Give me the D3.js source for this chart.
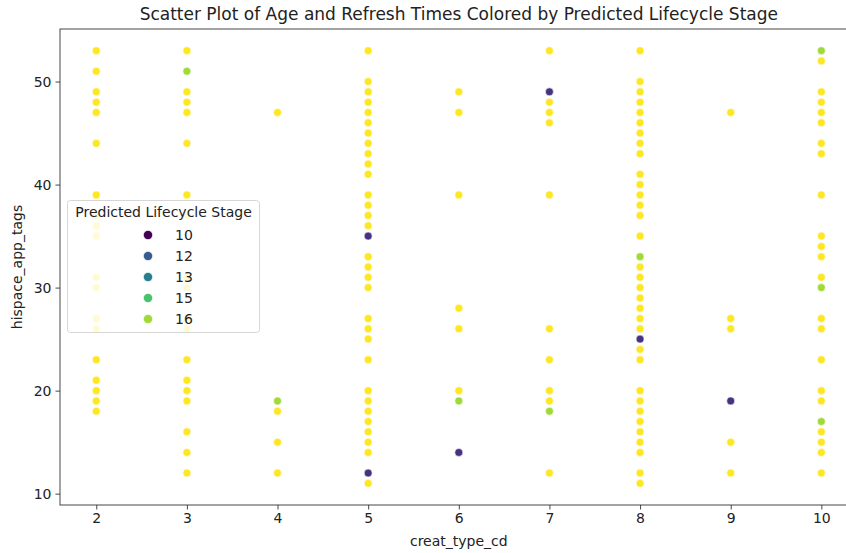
<!DOCTYPE html>
<html>
  <head>
    <script src="https://d3js.org/d3.v7.min.js"></script>
    <style>
      body { margin: 0; background: #fff; }
      text { font-family: "DejaVu Sans", sans-serif; fill: #222; }
    </style>
  </head>
  <body>
    <svg width="846" height="553"></svg>
    <script type="text/javascript">
      // creat_type_cd values on the x axis
      var creatTypes = [2, 3, 4, 5, 6, 7, 8, 9, 10];
      var yTicks = [10, 20, 30, 40, 50];
      var legendStages = [10, 12, 13, 15, 16];

      // [creat_type_cd, hispace_app_tags, predicted stage]
      var points = [
        [2, 53, 17], [2, 51, 17], [2, 49, 17], [2, 48, 17], [2, 47, 17], [2, 44, 17], [2, 39, 17],
        [2, 37, 17], [2, 36, 17], [2, 35, 17], [2, 31, 17], [2, 30, 17], [2, 27, 17], [2, 26, 17],
        [2, 23, 17], [2, 21, 17], [2, 20, 17], [2, 19, 17], [2, 18, 17],
        [3, 53, 17], [3, 51, 16], [3, 49, 17], [3, 48, 17], [3, 47, 17], [3, 44, 17], [3, 39, 17],
        [3, 37, 17], [3, 31, 17], [3, 30, 17], [3, 27, 17], [3, 26, 17], [3, 23, 17], [3, 21, 17],
        [3, 20, 17], [3, 19, 17], [3, 16, 17], [3, 14, 17], [3, 12, 17],
        [4, 47, 17], [4, 19, 16], [4, 18, 17], [4, 15, 17], [4, 12, 17],
        [5, 53, 17], [5, 50, 17], [5, 49, 17], [5, 48, 17], [5, 47, 17], [5, 46, 17], [5, 45, 17],
        [5, 44, 17], [5, 43, 17], [5, 42, 17], [5, 41, 17], [5, 39, 17], [5, 38, 17], [5, 37, 17],
        [5, 36, 17], [5, 35, 11], [5, 33, 17], [5, 32, 17], [5, 31, 17], [5, 30, 17], [5, 27, 17],
        [5, 26, 17], [5, 25, 17], [5, 23, 17], [5, 20, 17], [5, 19, 17], [5, 18, 17], [5, 17, 17],
        [5, 16, 17], [5, 15, 17], [5, 14, 17], [5, 12, 11], [5, 11, 17],
        [6, 49, 17], [6, 47, 17], [6, 39, 17], [6, 28, 17], [6, 26, 17], [6, 20, 17], [6, 19, 16],
        [6, 14, 11],
        [7, 53, 17], [7, 49, 11], [7, 48, 17], [7, 47, 17], [7, 46, 17], [7, 39, 17], [7, 26, 17],
        [7, 23, 17], [7, 20, 17], [7, 19, 17], [7, 18, 16], [7, 12, 17],
        [8, 53, 17], [8, 50, 17], [8, 49, 17], [8, 48, 17], [8, 47, 17], [8, 46, 17], [8, 45, 17],
        [8, 44, 17], [8, 43, 17], [8, 41, 17], [8, 40, 17], [8, 39, 17], [8, 38, 17], [8, 37, 17],
        [8, 35, 17], [8, 33, 16], [8, 32, 17], [8, 31, 17], [8, 30, 17], [8, 29, 17], [8, 28, 17],
        [8, 27, 17], [8, 26, 17], [8, 25, 11], [8, 24, 17], [8, 23, 17], [8, 20, 17], [8, 19, 17],
        [8, 18, 17], [8, 17, 17], [8, 16, 17], [8, 15, 17], [8, 14, 17], [8, 12, 17], [8, 11, 17],
        [9, 47, 17], [9, 27, 17], [9, 26, 17], [9, 19, 11], [9, 15, 17], [9, 12, 17],
        [10, 53, 16], [10, 52, 17], [10, 49, 17], [10, 48, 17], [10, 47, 17], [10, 46, 17],
        [10, 44, 17], [10, 43, 17], [10, 39, 17], [10, 35, 17], [10, 34, 17], [10, 33, 17],
        [10, 31, 17], [10, 30, 16], [10, 27, 17], [10, 26, 17], [10, 23, 17], [10, 20, 17],
        [10, 19, 17], [10, 17, 16], [10, 16, 17], [10, 15, 17], [10, 14, 17], [10, 12, 17]
      ];

      var svg = d3.select("svg");
      var plotLeft = 60, plotRight = 857.6, plotTop = 29, plotBottom = 505;

      var xScale = d3.scaleLinear().domain([1.6, 10.4]).range([plotLeft, plotRight]);
      var yScale = d3.scaleLinear().domain([8.9, 55.1]).range([plotBottom, plotTop]);
      var color = d3.scaleSequential(d3.interpolateViridis).domain([10, 17]);

      // points
      svg.append("g")
        .selectAll("circle")
        .data(points)
        .enter()
        .append("circle")
        .attr("cx", (d) => xScale(d[0]))
        .attr("cy", (d) => yScale(d[1]))
        .attr("r", 4)
        .attr("fill", (d) => color(d[2]))
        .attr("stroke", "white")
        .attr("stroke-width", 0.6);

      // axes
      var xAxis = svg.append("g")
        .attr("transform", "translate(0," + plotBottom + ")")
        .call(d3.axisBottom(xScale).tickValues(creatTypes).tickSize(4.5).tickPadding(4));
      var yAxis = svg.append("g")
        .attr("transform", "translate(" + plotLeft + ",0)")
        .call(d3.axisLeft(yScale).tickValues(yTicks).tickSize(4.5).tickPadding(4));

      [xAxis, yAxis].forEach((g) => {
        g.select(".domain").remove();
        g.selectAll(".tick line").attr("stroke", "#333").attr("stroke-width", 0.9);
        g.selectAll(".tick text")
          .attr("fill", "#222")
          .style("font-family", "DejaVu Sans")
          .style("font-size", "14px");
      });

      // spines
      svg.append("rect")
        .attr("x", plotLeft)
        .attr("y", plotTop)
        .attr("width", plotRight - plotLeft)
        .attr("height", plotBottom - plotTop)
        .attr("fill", "none")
        .attr("stroke", "#333")
        .attr("stroke-width", 0.9);

      // title and labels
      svg.append("text")
        .attr("x", (plotLeft + plotRight) / 2)
        .attr("y", 20)
        .attr("text-anchor", "middle")
        .style("font-size", "17px")
        .text("Scatter Plot of Age and Refresh Times Colored by Predicted Lifecycle Stage");

      svg.append("text")
        .attr("x", (plotLeft + plotRight) / 2)
        .attr("y", 546)
        .attr("text-anchor", "middle")
        .style("font-size", "14px")
        .text("creat_type_cd");

      svg.append("text")
        .attr("transform", "translate(22," + (plotTop + plotBottom) / 2 + ") rotate(-90)")
        .attr("text-anchor", "middle")
        .style("font-size", "14px")
        .text("hispace_app_tags");

      // legend
      var lg = svg.append("g").attr("transform", "translate(67,200)");
      lg.append("rect")
        .attr("x", 0.5)
        .attr("y", 0.5)
        .attr("width", 192)
        .attr("height", 132)
        .attr("rx", 3)
        .attr("fill", "white")
        .attr("fill-opacity", 0.8)
        .attr("stroke", "#d6d6d6");
      lg.append("text")
        .attr("x", 96.5)
        .attr("y", 17)
        .attr("text-anchor", "middle")
        .style("font-size", "14px")
        .text("Predicted Lifecycle Stage");
      var items = lg.selectAll(".item")
        .data(legendStages)
        .enter()
        .append("g")
        .attr("class", "item")
        .attr("transform", (d, i) => "translate(0," + (35 + i * 21) + ")");
      items.append("circle")
        .attr("cx", 81)
        .attr("cy", 0)
        .attr("r", 4.6)
        .attr("fill", (d) => color(d))
        .attr("stroke", "white")
        .attr("stroke-width", 0.6);
      items.append("text")
        .attr("x", 108)
        .attr("y", 5)
        .style("font-size", "14px")
        .text((d) => d);
    </script>
  </body>
</html>
